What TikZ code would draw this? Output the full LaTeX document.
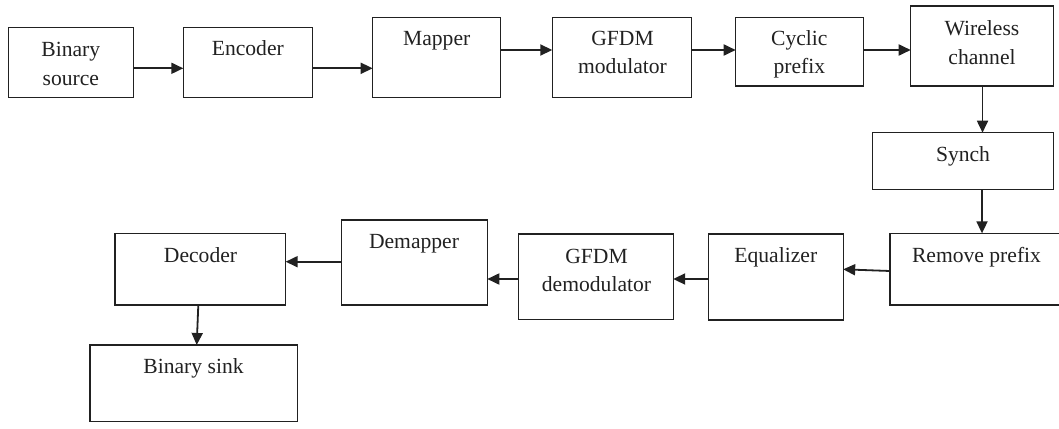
\documentclass[tikz,border=0pt]{standalone}
\usepackage{fontspec}
\setmainfont{Liberation Serif}
\usetikzlibrary{arrows.meta}
\definecolor{ink}{gray}{0.13}
\tikzset{
  box/.style={draw=ink, line width=1.2pt, rectangle, inner sep=0pt, outer sep=0pt},
  % captions are anchored at the baseline of their last line
  lbl/.style={anchor=base, align=center, inner sep=0pt, text=ink,
    font=\fontsize{21.6}{28.5}\selectfont},
  arr/.style={draw=ink, line width=1.8pt,
    -{Triangle[length=12pt, width=11pt]}},
}
\begin{document}
\begin{tikzpicture}[x=1pt, y=-1pt]
\useasboundingbox (0,0) rectangle (1059,428);

% transmitter chain
\node[box, minimum width=125pt, minimum height=69.6pt] (src) at (70.8,62.5) {};
\node[box, minimum width=129pt, minimum height=69.6pt] (enc) at (247.8,62.5) {};
\node[box, minimum width=128pt, minimum height=80pt] (map) at (436.7,57.3) {};
\node[box, minimum width=139.4pt, minimum height=80pt] (mod) at (622,57.3) {};
\node[box, minimum width=127.6pt, minimum height=68.7pt] (cp) at (799.5,51.7) {};
\node[box, minimum width=142.6pt, minimum height=80pt] (ch) at (982,46) {};

% receiver chain
\node[box, minimum width=181pt, minimum height=56.6pt] (syn) at (962.8,161) {};
\node[box, minimum width=173pt, minimum height=71.7pt] (rp) at (976.5,269.2) {};
\node[box, minimum width=134.3pt, minimum height=86pt] (eq) at (776,277) {};
\node[box, minimum width=154.3pt, minimum height=85.3pt] (dem) at (596,276.7) {};
\node[box, minimum width=145.6pt, minimum height=85pt] (dmp) at (414.5,262.5) {};
\node[box, minimum width=170.7pt, minimum height=71.7pt] (dec) at (200.3,269.2) {};
\node[box, minimum width=207.7pt, minimum height=76.7pt] (snk) at (193.8,383.3) {};

% block captions
\node[lbl] (tsrc) at (70.8,85) {Binary\\source};
\node[lbl] (tenc) at (247.8,56) {Encoder};
\node[lbl] (tmap) at (436.7,45.7) {Mapper};
\node[lbl] (tmod) at (622.5,74) {GFDM\\modulator};
\node[lbl] (tcp) at (799.3,74) {Cyclic\\prefix};
\node[lbl] (tch) at (982,64.3) {Wireless\\channel};
\node[lbl] (tsyn) at (963,161.7) {Synch};
\node[lbl] (trp) at (976.5,262.7) {Remove prefix};
\node[lbl] (teq) at (775.8,262.7) {Equalizer};
\node[lbl] (tdem) at (596.5,291.7) {GFDM\\demodulator};
\node[lbl] (tdmp) at (414,248.3) {Demapper};
\node[lbl] (tdec) at (200.5,262.7) {Decoder};
\node[lbl] (tsnk) at (193.5,373.3) {Binary sink};

% signal flow
\draw[arr] (src.east |- 0,68.3) -- (enc.west |- 0,68.3);
\draw[arr] (enc.east |- 0,68.3) -- (map.west |- 0,68.3);
\draw[arr] (map.east |- 0,50) -- (mod.west |- 0,50);
\draw[arr] (mod.east |- 0,50) -- (cp.west |- 0,50);
\draw[arr] (cp.east |- 0,50) -- (ch.west |- 0,50);
\draw[arr] (ch.south -| 982.5,0) -- (syn.north -| 982.5,0);
\draw[arr] (syn.south -| 982,0) -- (rp.north -| 982,0);
\draw[arr] (rp.west |- 0,271) -- (eq.east |- 0,269.3);
\draw[arr] (eq.west |- 0,279) -- (dem.east |- 0,279);
\draw[arr] (dem.west |- 0,279) -- (dmp.east |- 0,279);
\draw[arr] (dmp.west |- 0,261.7) -- (dec.east |- 0,261.7);
\draw[arr] (dec.south -| 198.3,0) -- (snk.north -| 196.7,0);
\end{tikzpicture}
\end{document}
